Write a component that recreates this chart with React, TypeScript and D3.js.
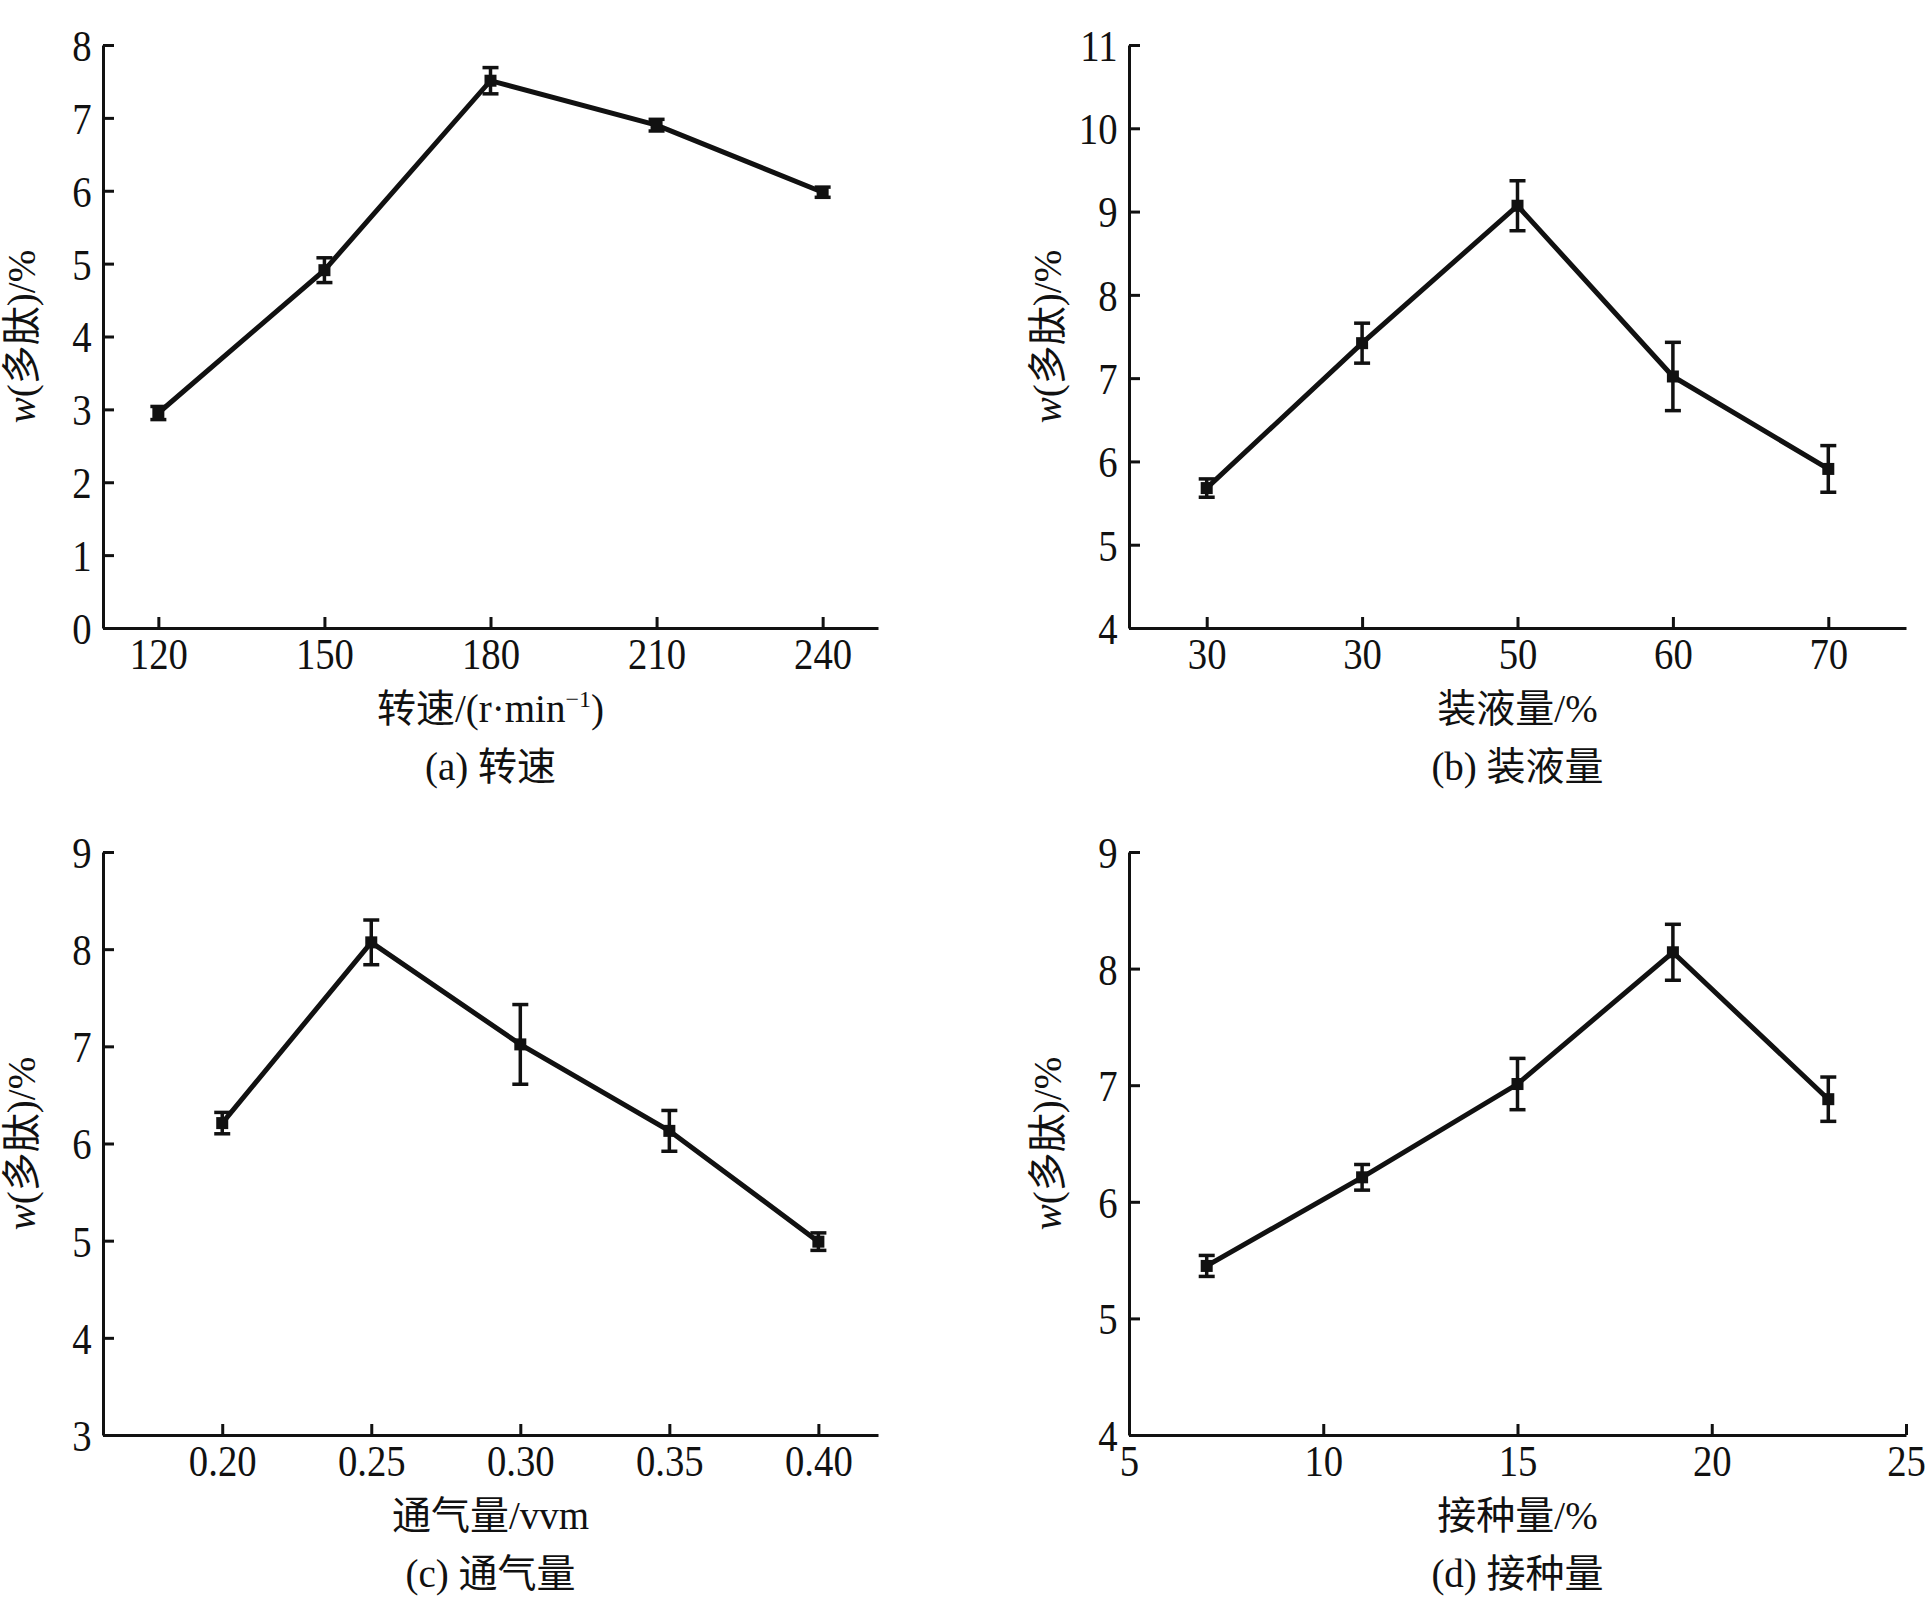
import { useEffect, useRef } from "react";
import * as d3 from "d3";

// (a) shaking speed
const speedX = [120, 150, 180, 210, 240];
const speedY = [2.95, 4.91, 7.51, 6.9, 5.98];
const speedErr = [0.09, 0.17, 0.18, 0.08, 0.07];
const speedTicksY = [0, 1, 2, 3, 4, 5, 6, 7, 8];

// (b) liquid volume (the source labels the first two points "30")
const liquidLabels = ["30", "30", "50", "60", "70"];
const liquidY = [5.68, 7.42, 9.07, 7.02, 5.91];
const liquidErr = [0.11, 0.24, 0.3, 0.41, 0.28];
const liquidTicksY = [4, 5, 6, 7, 8, 9, 10, 11];

// (c) aeration
const airX = [0.2, 0.25, 0.3, 0.35, 0.4];
const airY = [6.21, 8.07, 7.02, 6.13, 4.99];
const airErr = [0.11, 0.23, 0.41, 0.21, 0.09];
const airTicksY = [3, 4, 5, 6, 7, 8, 9];

// (d) inoculum
const inocX = [7, 11, 15, 19, 23];
const inocY = [5.45, 6.21, 7.01, 8.14, 6.88];
const inocErr = [0.09, 0.11, 0.22, 0.24, 0.19];
const inocTicksX = [5, 10, 15, 20, 25];
const inocTicksY = [4, 5, 6, 7, 8, 9];

const FONT = "'Liberation Serif', 'Times New Roman', 'Noto Sans CJK SC', serif";
const INK = "#111";

interface PanelSpec {
  left: number;
  top: number;
  width: number;
  height: number;
  xDomain: [number, number];
  yDomain: [number, number];
  xs: number[];
  ys: number[];
  errs: number[];
  xTicks: number[];
  xFormat: (d: number, i: number) => string;
  yTicks: number[];
  xLabel: (t: d3.Selection<SVGTextElement, unknown, null, undefined>) => void;
  caption: string;
}

export default function App() {
  const svgRef = useRef<SVGSVGElement>(null);

  useEffect(() => {
    if (!svgRef.current) return;
    const svg = d3.select(svgRef.current);
    svg.selectAll("*").remove();

    const panels: PanelSpec[] = [
      {
        left: 103, top: 45, width: 775, height: 583,
        xDomain: [110, 250], yDomain: [0, 8],
        xs: speedX, ys: speedY, errs: speedErr,
        xTicks: speedX, xFormat: (d) => `${d}`, yTicks: speedTicksY,
        xLabel: (t) => {
          t.append("tspan").text("转速/(r·min");
          t.append("tspan").attr("dy", -15).style("font-size", "24px").text("−1");
          t.append("tspan").attr("dy", 15).text(")");
        },
        caption: "(a) 转速",
      },
      {
        left: 1129, top: 45, width: 777, height: 583,
        xDomain: [-0.5, 4.5], yDomain: [4, 11],
        xs: liquidLabels.map((_, i) => i), ys: liquidY, errs: liquidErr,
        xTicks: liquidLabels.map((_, i) => i), xFormat: (_d, i) => liquidLabels[i], yTicks: liquidTicksY,
        xLabel: (t) => { t.text("装液量/%"); },
        caption: "(b) 装液量",
      },
      {
        left: 103, top: 852, width: 775, height: 583,
        xDomain: [0.16, 0.42], yDomain: [3, 9],
        xs: airX, ys: airY, errs: airErr,
        xTicks: airX, xFormat: (d) => d.toFixed(2), yTicks: airTicksY,
        xLabel: (t) => { t.text("通气量/vvm"); },
        caption: "(c) 通气量",
      },
      {
        left: 1129, top: 852, width: 777, height: 583,
        xDomain: [5, 25], yDomain: [4, 9],
        xs: inocX, ys: inocY, errs: inocErr,
        xTicks: inocTicksX, xFormat: (d) => `${d}`, yTicks: inocTicksY,
        xLabel: (t) => { t.text("接种量/%"); },
        caption: "(d) 接种量",
      },
    ];

    panels.forEach((p) => {
      const g = svg.append("g").attr("transform", `translate(${p.left},${p.top})`);
      const x = d3.scaleLinear().domain(p.xDomain).range([0, p.width]);
      const y = d3.scaleLinear().domain(p.yDomain).range([p.height, 0]);

      // y axis, ticks pointing inward; digits slightly condensed like the print
      g.append("g")
        .call(d3.axisLeft(y).tickValues(p.yTicks).tickSize(-11).tickPadding(13).tickSizeOuter(0).tickFormat((d) => `${d}`))
        .call((s) => s.selectAll("line, path").attr("stroke", INK).attr("stroke-width", 3))
        .selectAll("text")
        .style("font-family", FONT)
        .style("font-size", "44px")
        .attr("fill", INK)
        .attr("dy", "0.35em")
        .attr("transform", "scale(0.88,1)");

      // x axis
      g.append("g")
        .attr("transform", `translate(0,${p.height})`)
        .call(
          d3.axisBottom(x).tickValues(p.xTicks).tickSize(-11).tickPadding(10).tickSizeOuter(0)
            .tickFormat((d, i) => p.xFormat(d as number, i)),
        )
        .call((s) => s.selectAll("line, path").attr("stroke", INK).attr("stroke-width", 3))
        .selectAll("text")
        .style("font-family", FONT)
        .style("font-size", "44px")
        .attr("fill", INK)
        .attr("transform", "scale(0.88,1)");

      const pts = p.xs.map((xv, i) => ({ x: xv, y: p.ys[i], e: p.errs[i] }));

      const line = d3.line<{ x: number; y: number }>().x((d) => x(d.x)).y((d) => y(d.y));
      g.append("path")
        .datum(pts)
        .attr("fill", "none")
        .attr("stroke", INK)
        .attr("stroke-width", 5)
        .attr("stroke-linejoin", "miter")
        .attr("d", line);

      const eb = g.selectAll("g.eb").data(pts).join("g").attr("class", "eb");
      eb.append("line")
        .attr("x1", (d) => x(d.x)).attr("x2", (d) => x(d.x))
        .attr("y1", (d) => y(d.y - d.e)).attr("y2", (d) => y(d.y + d.e))
        .attr("stroke", INK).attr("stroke-width", 3.5);
      [1, -1].forEach((s) => {
        eb.append("line")
          .attr("x1", (d) => x(d.x) - 8).attr("x2", (d) => x(d.x) + 8)
          .attr("y1", (d) => y(d.y + s * d.e)).attr("y2", (d) => y(d.y + s * d.e))
          .attr("stroke", INK).attr("stroke-width", 3.5);
      });
      eb.append("rect")
        .attr("x", (d) => x(d.x) - 6).attr("y", (d) => y(d.y) - 6)
        .attr("width", 12).attr("height", 12)
        .attr("fill", INK);

      // y title
      const yt = g.append("text")
        .attr("transform", `translate(-68,${p.height / 2}) rotate(-90)`)
        .attr("text-anchor", "middle")
        .style("font-family", FONT)
        .style("font-size", "39px")
        .attr("fill", INK);
      yt.append("tspan").style("font-style", "italic").text("w");
      yt.append("tspan").text("(多肽)/%");

      const xt = g.append("text")
        .attr("x", p.width / 2)
        .attr("y", p.height + 94)
        .attr("text-anchor", "middle")
        .style("font-family", FONT)
        .style("font-size", "39px")
        .attr("fill", INK);
      p.xLabel(xt);

      g.append("text")
        .attr("x", p.width / 2)
        .attr("y", p.height + 152)
        .attr("text-anchor", "middle")
        .style("font-family", FONT)
        .style("font-size", "39px")
        .attr("fill", INK)
        .text(p.caption);
    });
  }, []);

  return (
    <svg
      ref={svgRef}
      width={1930}
      height={1603}
      style={{ position: "absolute", left: 0, top: 0, background: "#fff" }}
    />
  );
}
